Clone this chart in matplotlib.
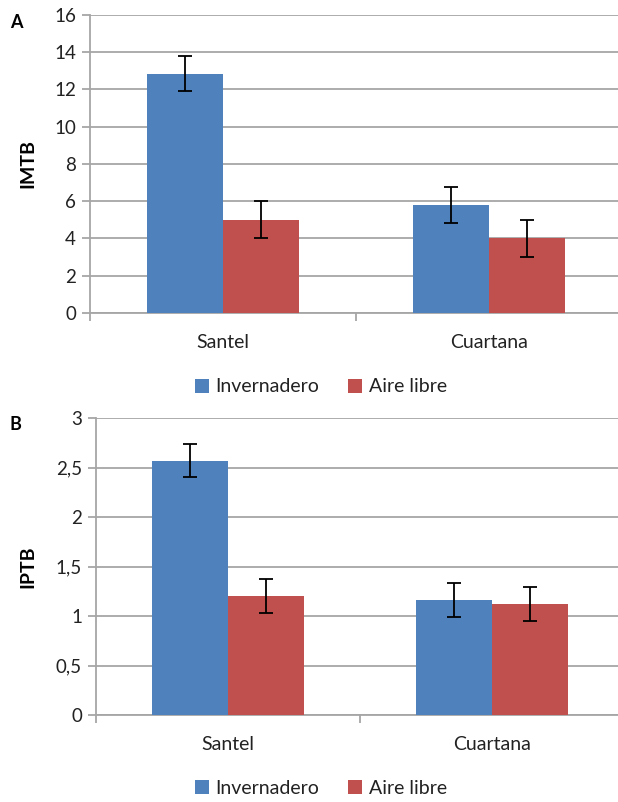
import matplotlib.pyplot as plt
from matplotlib.ticker import FixedLocator, FuncFormatter, MultipleLocator
from matplotlib.patches import Patch
import numpy as np

plt.rcParams['font.family'] = ['Lato', 'DejaVu Sans']

# Datos
cultivares = ["Santel", "Cuartana"]
series = ["Invernadero", "Aire libre"]
colores = ["#4F81BD", "#C0504D"]

imtb = [[12.85, 5.8], [5.0, 4.0]]
imtb_err = [[0.95, 0.96], [1.0, 0.97]]

iptb = [[2.57, 1.16], [1.20, 1.12]]
iptb_err = [[0.17, 0.17], [0.17, 0.17]]

grid_color = "#A6A6A6"
texto = "#222222"
ancho = 0.286


def coma(v, pos):
    if abs(v - round(v)) < 1e-9:
        return f"{int(round(v))}"
    return f"{v:g}".replace(".", ",")


def panel(ax, valores, errores, ymax, paso, etiqueta):
    x = np.arange(len(cultivares))
    for i, (serie, color) in enumerate(zip(series, colores)):
        ax.bar(x + (i - 0.5) * ancho, valores[i], width=ancho, color=color,
               yerr=errores[i], capsize=5,
               error_kw=dict(ecolor="black", elinewidth=1.3, capthick=1.3),
               zorder=3, label=serie)
    ax.set_xlim(-0.5, len(cultivares) - 0.5)
    ax.set_ylim(0, ymax)
    ax.yaxis.set_major_locator(MultipleLocator(paso))
    ax.yaxis.set_major_formatter(FuncFormatter(coma))
    ax.grid(axis="y", color=grid_color, linewidth=1.3, zorder=0)
    for s in ["top", "right"]:
        ax.spines[s].set_visible(False)
    for s in ["left", "bottom"]:
        ax.spines[s].set_color(grid_color)
        ax.spines[s].set_linewidth(1.3)
    ax.set_xticks(x)
    ax.set_xticklabels(cultivares, fontsize=14, color=texto)
    ax.tick_params(axis="x", which="major", length=0, pad=15)
    ax.xaxis.set_minor_locator(FixedLocator(np.arange(-0.5, len(cultivares), 1.0)))
    ax.tick_params(axis="x", which="minor", length=6, color=grid_color, width=1.3)
    ax.tick_params(axis="y", length=6, color=grid_color, width=1.3,
                   labelsize=13.5, labelcolor=texto, pad=4)
    ax.set_ylabel(etiqueta, fontsize=14, fontweight="bold")


fig = plt.figure(figsize=(6.18, 8.02), dpi=100)

ax1 = fig.add_axes([90 / 618, 1 - 313 / 802, 532 / 618, 298 / 802])
panel(ax1, imtb, imtb_err, 16, 2, "IMTB")
ax1.yaxis.set_label_coords(-(90 - 36) / 532, 0.5)

ax2 = fig.add_axes([96 / 618, 1 - 715 / 802, 528 / 618, 297 / 802])
panel(ax2, iptb, iptb_err, 3, 0.5, "IPTB")
ax2.yaxis.set_label_coords(-(96 - 36) / 528, 0.5)

fig.text(16 / 618, 1 - 23 / 802, "A", fontsize=13, fontweight="bold",
         ha="center", va="center")
fig.text(15 / 618, 1 - 424 / 802, "B", fontsize=13, fontweight="bold",
         ha="center", va="center")

handles = [Patch(facecolor=c, edgecolor="none", label=s) for s, c in zip(series, colores)]
for yc in (387, 788):
    fig.legend(handles=handles, loc="center", bbox_to_anchor=(321 / 618, 1 - yc / 802),
               ncol=2, frameon=False, fontsize=14, handlelength=0.7,
               handleheight=0.7, handletextpad=0.35, columnspacing=1.5,
               borderpad=0, labelcolor=texto)

fig.savefig("out.png", dpi=100, facecolor="white")
